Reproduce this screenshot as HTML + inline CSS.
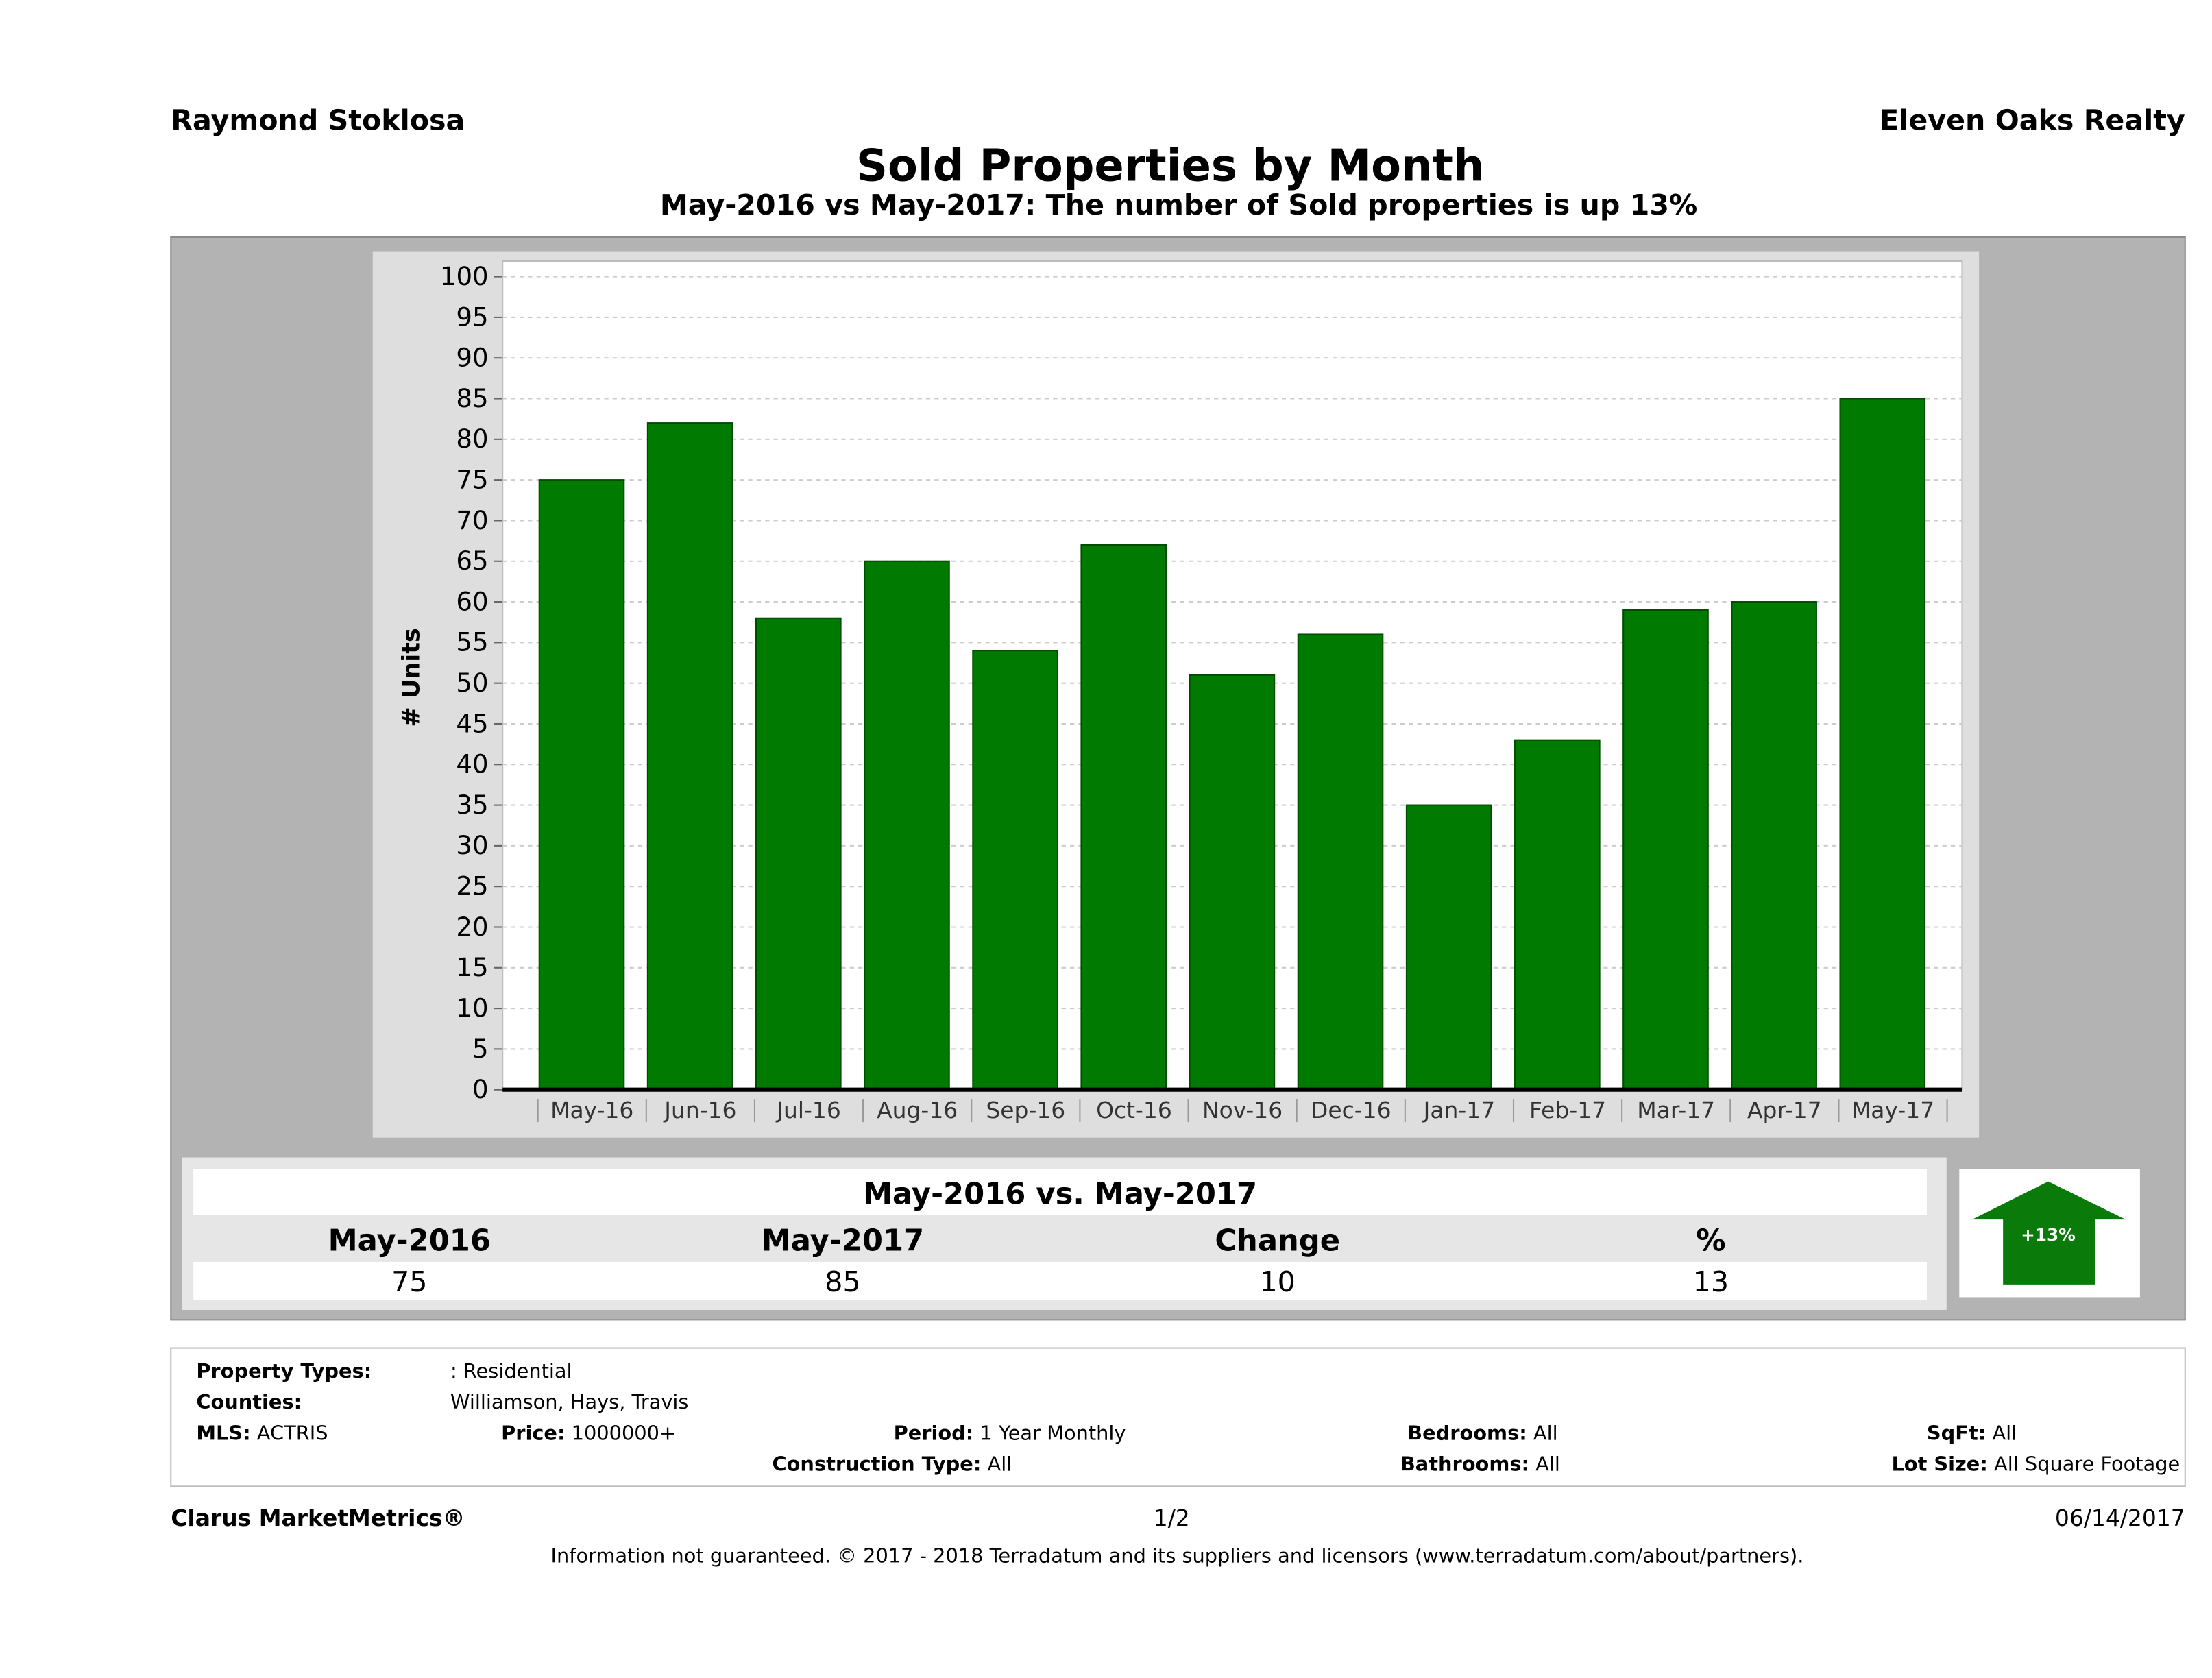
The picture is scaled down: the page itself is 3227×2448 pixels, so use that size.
<!DOCTYPE html>
<html><head><meta charset="utf-8"><style>
html,body{margin:0;padding:0;background:#fff;}
svg{display:block;font-family:"DejaVu Sans","Liberation Sans",sans-serif;}
</style></head><body>
<svg id="root" width="3227" height="2448" viewBox="0 0 1567 1188.8">
<text x="121" y="92" font-size="20" font-weight="bold">Raymond Stoklosa</text>
<text x="1548" y="92" font-size="20" font-weight="bold" text-anchor="end">Eleven Oaks Realty</text>
<text x="829" y="128" font-size="31" font-weight="bold" text-anchor="middle">Sold Properties by Month</text>
<text x="835" y="152" font-size="20" font-weight="bold" text-anchor="middle">May-2016 vs May-2017: The number of Sold  properties is up 13%</text>
<rect x="121" y="168" width="1427" height="767" fill="#b3b3b3" stroke="#8a8a8a"/>
<rect x="264" y="178" width="1138" height="628" fill="#dedede"/>
<rect x="356" y="185" width="1034" height="587" fill="#fff" stroke="#bbb"/>
<g id="grid"></g><g id="bars"></g><g id="yticks"></g><g id="xticks"></g>
<line x1="356" y1="772" x2="1390" y2="772" stroke="#000" stroke-width="3"/>
<text transform="translate(297,480) rotate(-90)" font-size="17" font-weight="bold" text-anchor="middle"># Units</text>
<rect x="129" y="820" width="1250" height="108" fill="#e6e6e6"/>
<rect x="137" y="828" width="1228" height="33" fill="#fff"/>
<text x="751" y="853" font-size="21" font-weight="bold" text-anchor="middle">May-2016 vs. May-2017</text>
<g font-size="21" font-weight="bold" text-anchor="middle">
<text x="290" y="886">May-2016</text>
<text x="597" y="886">May-2017</text>
<text x="905" y="886">Change</text>
<text x="1212" y="886">%</text>
</g>
<rect x="137" y="894" width="1228" height="27" fill="#fff"/>
<g font-size="20" text-anchor="middle">
<text x="290" y="915">75</text>
<text x="597" y="915">85</text>
<text x="905" y="915">10</text>
<text x="1212" y="915">13</text>
</g>
<rect x="1388" y="828" width="128" height="91" fill="#fff"/>
<polygon points="1451,837 1506,864 1484,864 1484,910 1419,910 1419,864 1397,864" fill="#0a7a0a"/>
<text x="1451" y="879" font-size="12" font-weight="bold" fill="#fff" text-anchor="middle">+13%</text>
<rect x="121" y="955" width="1427" height="98" fill="#fff" stroke="#bbb"/>
<g font-size="14">
<text x="139" y="976" font-weight="bold">Property Types:</text>
<text x="319" y="976">: Residential</text>
<text x="139" y="998" font-weight="bold">Counties:</text>
<text x="319" y="998">Williamson, Hays, Travis</text>
<text x="139" y="1020"><tspan font-weight="bold">MLS:</tspan>   ACTRIS</text>
<text x="355" y="1020"><tspan font-weight="bold">Price:</tspan> 1000000+</text>
<text x="633" y="1020"><tspan font-weight="bold">Period:</tspan> 1 Year Monthly</text>
<text x="997" y="1020"><tspan font-weight="bold">Bedrooms:</tspan> All</text>
<text x="1365" y="1020"><tspan font-weight="bold">SqFt:</tspan>  All</text>
<text x="547" y="1042"><tspan font-weight="bold">Construction Type:</tspan> All</text>
<text x="992" y="1042"><tspan font-weight="bold">Bathrooms:</tspan> All</text>
<text x="1340" y="1042"><tspan font-weight="bold">Lot Size:</tspan>  All Square Footage</text>
</g>
<text x="121" y="1081" font-size="16" font-weight="bold">Clarus MarketMetrics®</text>
<text x="830" y="1081" font-size="16" text-anchor="middle">1/2</text>
<text x="1548" y="1081" font-size="16" text-anchor="end">06/14/2017</text>
<text x="834" y="1107" font-size="14" text-anchor="middle">Information not guaranteed. © 2017 - 2018 Terradatum and its suppliers and licensors (www.terradatum.com/about/partners).</text>
</svg>
<script>
const categories = ["May-16","Jun-16","Jul-16","Aug-16","Sep-16","Oct-16","Nov-16","Dec-16","Jan-17","Feb-17","Mar-17","Apr-17","May-17"];
const soldUnits = [75,82,58,65,54,67,51,56,35,43,59,60,85];
const yTicks = [0,5,10,15,20,25,30,35,40,45,50,55,60,65,70,75,80,85,90,95,100];
const NS = "http://www.w3.org/2000/svg";
function y(v){ return 772 - v * 5.76; }
const bandStart = 381, bandStep = 76.8, barW = 60;
function x(i){ return bandStart + i * bandStep; }
function mk(tag, attrs, parent){ const e = document.createElementNS(NS, tag); for (const k in attrs) e.setAttribute(k, attrs[k]); parent.appendChild(e); return e; }
const grid = document.getElementById('grid'), bars = document.getElementById('bars'), yt = document.getElementById('yticks'), xt = document.getElementById('xticks');
yTicks.forEach(v => {
  if (v > 0) {
    const g = mk('line', {x1:356, x2:1390, y1:y(v), y2:y(v), stroke:'#ccc', 'stroke-dasharray':'3,3'}, grid);
    
    
  }
  const t = mk('text', {x:346, y:y(v)+6, 'font-size':18, 'text-anchor':'end'}, yt);
  t.textContent = v;
  
  
  const tk = mk('line', {x1:350, x2:356, y1:y(v), y2:y(v), stroke:'#666'}, yt);
  
  
});
categories.forEach((c, i) => {
  const b = mk('rect', {x:x(i)+1, y:y(soldUnits[i]), width:barW, height:772 - y(soldUnits[i]), fill:'#007a00', stroke:'#004d00', 'stroke-width':1}, bars);
  
  
  const t = mk('text', {x:x(i)+bandStep/2, y:792, 'font-size':16, 'text-anchor':'middle', fill:'#333'}, xt);
  t.textContent = c;
  
  
  const tk = mk('line', {x1:x(i), x2:x(i), y1:779, y2:795, stroke:'#999'}, xt);
  
  
});
const last = mk('line', {x1:x(13), x2:x(13), y1:779, y2:795, stroke:'#999'}, xt);


</script>
</body></html>
